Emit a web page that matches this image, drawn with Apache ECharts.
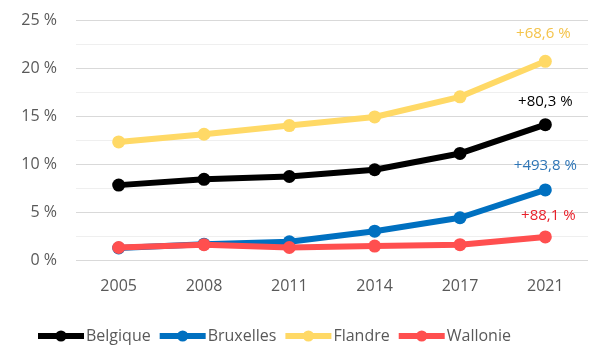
<!DOCTYPE html>
<html><head><meta charset="utf-8">
<script src="https://cdn.jsdelivr.net/npm/echarts@6/dist/echarts.min.js"></script>
<style>html,body{margin:0;padding:0;background:#fff}#c{width:601px;height:361px}</style>
</head><body><div id="c"></div>
<script>
const years = ['2005','2008','2011','2014','2017','2021'];
const belgique = [7.8, 8.4, 8.7, 9.4, 11.1, 14.1];
const bruxelles = [1.25, 1.65, 1.9, 3.0, 4.4, 7.3];
const flandre = [12.3, 13.1, 14.0, 14.9, 17.0, 20.7];
const wallonie = [1.3, 1.6, 1.3, 1.45, 1.6, 2.4];
const seriesNames = ['Belgique','Bruxelles','Flandre','Wallonie'];
const endLabels = ['+80,3 %','+493,8 %','+68,6 %','+88,1 %'];
const lineColors = ['#000000','#0070C0','#FFD966','#FF4F4F'];
const labelColors = ['#000000','#2E75B6','#F4C34A','#E8202A'];
const labelOffsets = [[0,-4],[0,-5],[-2,-9],[3,-2]];
const yTicks = [0,5,10,15,20,25];

const datas = [belgique, bruxelles, flandre, wallonie];
const font = 'Open Sans, Liberation Sans, sans-serif';
const chart = echarts.init(document.getElementById('c'), null, {renderer:'canvas'});
chart.setOption({
  animation:false,
  grid:{left:76, right:13, top:20, bottom:101},
  legend:{
    left:30, bottom:12, itemWidth:46, itemHeight:14, itemGap:6,
    data:seriesNames,
    lineStyle:{width:6},
    textStyle:{fontSize:16, color:'#595959', fontFamily:font, padding:[0,0,0,-3]}
  },
  xAxis:{
    type:'category', data:years, boundaryGap:true,
    axisLine:{show:false}, axisTick:{show:false},
    axisLabel:{fontSize:16, color:'#595959', margin:18, fontFamily:font}
  },
  yAxis:{
    type:'value', min:yTicks[0], max:yTicks[yTicks.length-1], interval:5,
    axisLabel:{formatter:'{value} %', fontSize:16, color:'#595959', margin:19, fontFamily:font},
    splitLine:{lineStyle:{color:'#d9d9d9', width:1}},
    minorTick:{show:false, splitNumber:2},
    minorSplitLine:{show:true, lineStyle:{color:'#efefef', width:1}}
  },
  series: seriesNames.map((n,i)=>({
    name:n, type:'line', data:datas[i].map((v,j)=> j===datas[i].length-1 ? {
      value:v,
      label:{show:true, position:'top', offset:labelOffsets[i], formatter:endLabels[i],
        color:labelColors[i], fontSize:15, fontFamily:font}
    } : v),
    symbol:'circle', symbolSize:13,
    lineStyle:{width:6, color:lineColors[i]},
    itemStyle:{color:lineColors[i]},
    z: [4,2,3,5][i]
  }))
});
</script></body></html>
